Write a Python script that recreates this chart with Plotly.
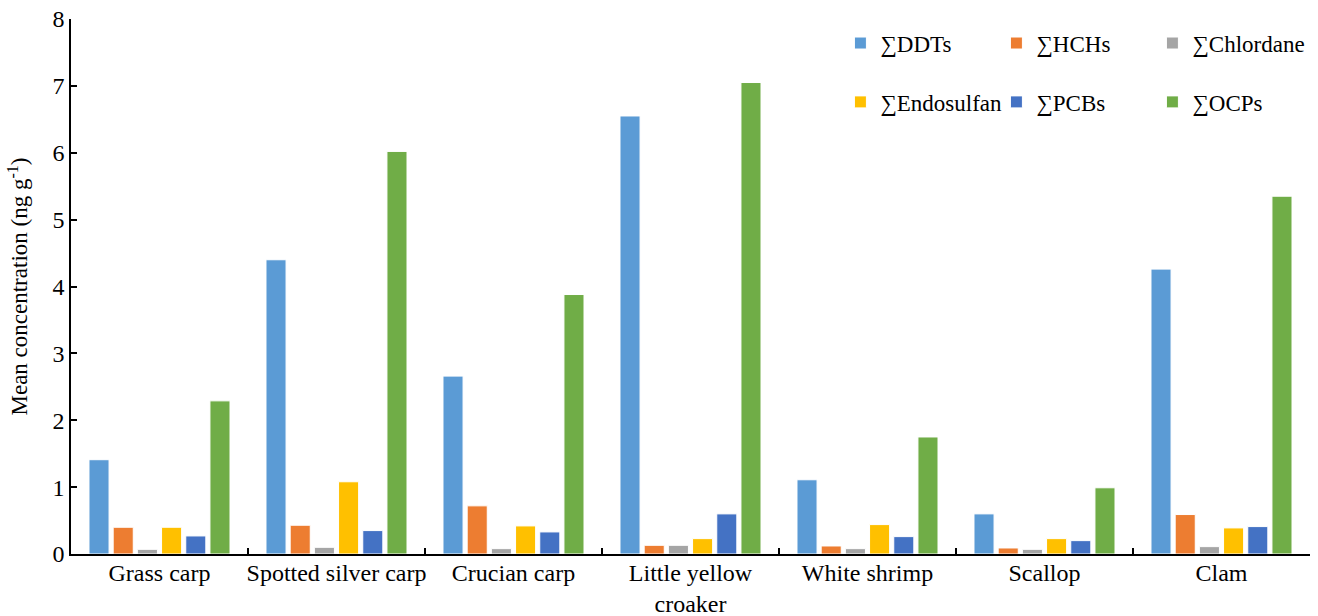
import plotly.graph_objects as go

categories = ["Grass carp", "Spotted silver carp", "Crucian carp", "Little yellow<br>croaker",
              "White shrimp", "Scallop", "Clam"]
ddts = [1.41, 4.40, 2.66, 6.55, 1.11, 0.60, 4.26]
hchs = [0.40, 0.43, 0.72, 0.13, 0.12, 0.09, 0.59]
chlordane = [0.07, 0.10, 0.08, 0.13, 0.08, 0.07, 0.11]
endosulfan = [0.40, 1.08, 0.42, 0.23, 0.44, 0.23, 0.39]
pcbs = [0.27, 0.35, 0.33, 0.60, 0.26, 0.20, 0.41]
ocps = [2.29, 6.02, 3.88, 7.05, 1.75, 0.99, 5.35]

series = [
    ("∑DDTs", ddts, "#5B9BD5", "legend"),
    ("∑HCHs", hchs, "#ED7D31", "legend"),
    ("∑Chlordane", chlordane, "#A5A5A5", "legend"),
    ("∑Endosulfan", endosulfan, "#FFC000", "legend2"),
    ("∑PCBs", pcbs, "#4472C4", "legend2"),
    ("∑OCPs", ocps, "#70AD47", "legend2"),
]

font_family = '"Liberation Serif", "Times New Roman", Times, serif'

fig = go.Figure()
for name, vals, color, lg in series:
    fig.add_trace(go.Bar(
        name=name, x=categories, y=vals, legend=lg,
        marker=dict(color=color, line=dict(color="white", width=1)),
    ))

legend_common = dict(
    orientation="h", xanchor="left", yanchor="middle",
    font=dict(family=font_family, size=23, color="#000"),
    bgcolor="rgba(0,0,0,0)", entrywidth=111, entrywidthmode="pixels",
    itemwidth=30, traceorder="normal",
)

fig.update_layout(
    width=1318, height=616,
    margin=dict(l=71, r=8, t=19, b=62, autoexpand=False),
    paper_bgcolor="white", plot_bgcolor="white",
    barmode="group", bargap=0.18, bargroupgap=0.17,
    font=dict(family=font_family, size=24, color="#000"),
    legend=dict(x=0.621, y=0.955, **legend_common),
    legend2=dict(x=0.621, y=0.845, **legend_common),
    xaxis=dict(
        showline=True, linecolor="#000", linewidth=1.5, automargin=False,
        ticks="inside", ticklen=6, tickwidth=1.5, tickcolor="#000",
        tickson="boundaries", showgrid=False, tickangle=0, ticklabelstandoff=-4,
        tickfont=dict(family=font_family, size=24, color="#000"),
    ),
    yaxis=dict(
        range=[0, 8], dtick=1, showline=True, linecolor="#000", linewidth=1.5,
        automargin=False,
        ticks="inside", ticklen=6, tickwidth=1.5, tickcolor="#000",
        showgrid=False, zeroline=False,
        tickfont=dict(family=font_family, size=24, color="#000"),
        title=dict(text="Mean concentration (ng g<sup>-1</sup>)",
                   font=dict(family=font_family, size=23, color="#000"), standoff=18),
    ),
)

fig.write_html(
    "out.html",
    config={"displayModeBar": False},
    post_script="document.body.style.margin='0';document.body.style.overflow='hidden';",
)
